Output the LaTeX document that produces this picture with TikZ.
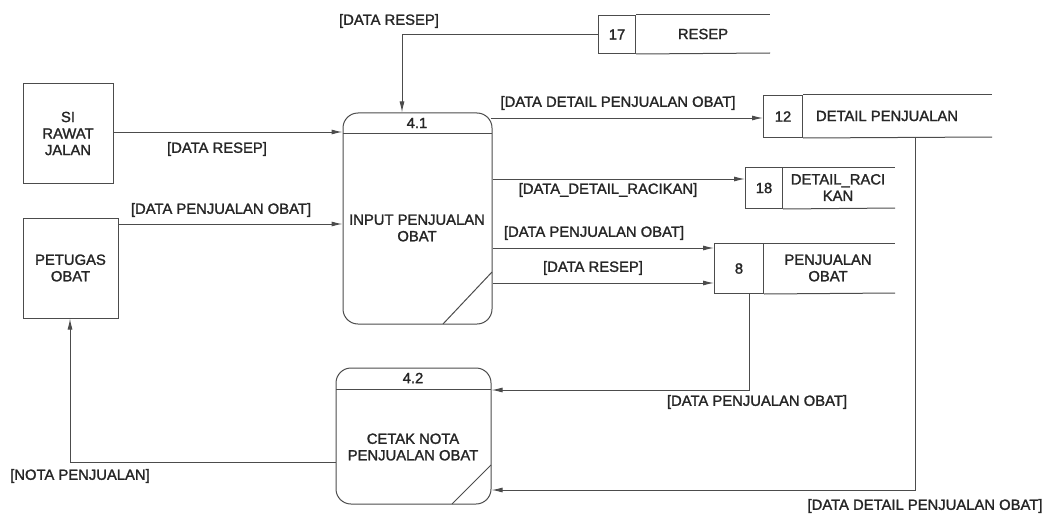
\documentclass[tikz,border=0pt]{standalone}
\usepackage{fontspec}
\setmainfont{Liberation Sans}
\newfontfamily\dfdfont{Liberation Sans}[FakeBold=1.6]
\usetikzlibrary{arrows.meta,calc}
\begin{document}
\begin{tikzpicture}[x=1pt,y=-1pt,
  ln/.style={draw=black!70, line width=1pt},
  flow/.style={ln, -{Latex[length=11pt,width=5pt]}},
  txt/.style={font=\dfdfont\fontsize{14.8}{16.5}\selectfont, text=black!85, inner sep=0pt, align=center},
  lbl/.style={txt},
  entity/.style={ln, txt, inner sep=0pt},
  proc/.style={ln, rounded corners=15pt, inner sep=0pt},
  numbox/.style={ln, txt, inner sep=0pt, anchor=north west}
]
\useasboundingbox (0,0) rectangle (1048,516);

% external entities
\node[entity, minimum width=90pt, minimum height=99pt] (si) at (68,133.5) {SI\\RAWAT\\JALAN};
\node[entity, minimum width=95pt, minimum height=100pt] (pet) at (70.5,268) {PETUGAS\\OBAT};

% process 4.1
\node[proc, minimum width=149pt, minimum height=211pt] (p1) at (417.5,218.5) {};
\draw[ln] (343,133) -- (492,133);
\draw[ln] (443,324) -- (492,272);
\node[txt] (p1id) at (417,123) {4.1};
\node[txt] (p1t) at (417,228) {INPUT PENJUALAN\\OBAT};

% process 4.2
\node[proc, minimum width=155pt, minimum height=136pt] (p2) at (413.5,436) {};
\draw[ln] (336,389) -- (491,389);
\draw[ln] (452,504) -- (491,465);
\node[txt] (p2id) at (413,378) {4.2};
\node[txt] (p2t) at (413,447) {CETAK NOTA\\PENJUALAN OBAT};

% data stores
\node[numbox, minimum width=37pt, minimum height=38pt] (s17) at (598,15) {17};
\draw[ln] (s17.north east) -- (770,15);
\draw[ln] (s17.south east) -- (770,53);
\node[txt] (s17t) at (703,34) {RESEP};

\node[numbox, minimum width=39pt, minimum height=42pt] (s12) at (763,95) {12};
\draw[ln] (s12.north east) -- (992,95);
\draw[ln] (s12.south east) -- (992,137);
\node[txt] (s12t) at (887,116) {DETAIL PENJUALAN};

\node[numbox, minimum width=37pt, minimum height=41pt] (s18) at (745,167) {18};
\draw[ln] (s18.north east) -- (895,167);
\draw[ln] (s18.south east) -- (895,208);
\node[txt] (s18t) at (838,187.5) {DETAIL\_RACI\\KAN};

\node[numbox, minimum width=49pt, minimum height=50pt] (s8) at (714,243) {8};
\draw[ln] (s8.north east) -- (895,243);
\draw[ln] (s8.south east) -- (895,293);
\node[txt] (s8t) at (828,268) {PENJUALAN\\OBAT};

% helper coordinates
\coordinate (ya) at (0,132);
\coordinate (yb) at (0,224);
\coordinate (yc) at (0,118);
\coordinate (yd) at (0,179);
\coordinate (ye) at (0,248);
\coordinate (yf) at (0,283);
\coordinate (yg) at (0,390);
\coordinate (yh) at (0,490);
\coordinate (yi) at (0,462);
\coordinate (xa) at (402,0);
\coordinate (xb) at (749,0);
\coordinate (xc) at (915,0);
\coordinate (xd) at (70,0);

% flows
\draw[flow] (si.east |- ya) -- (p1.west |- ya);
\draw[flow] (pet.east |- yb) -- (p1.west |- yb);
\draw[flow] (s17.west) -| (xa |- p1.north);
\draw[flow] ([xshift=-2pt]p1.east |- yc) -- (s12.west |- yc);
\draw[flow] (p1.east |- yd) -- (s18.west |- yd);
\draw[flow] (p1.east |- ye) -- (s8.west |- ye);
\draw[flow] (p1.east |- yf) -- (s8.west |- yf);
\draw[flow] (xb |- s8.south) |- (p2.east |- yg);
\draw[flow] (xc |- s12.south) |- (p2.east |- yh);
\draw[flow] (p2.west |- yi) -| (xd |- pet.south);

% labels
\node[lbl] (l1) at (389,21) {[DATA RESEP]};
\node[lbl] (l2) at (217,149) {[DATA RESEP]};
\node[lbl] (l3) at (221,210) {[DATA PENJUALAN OBAT]};
\node[lbl] (l4) at (618,103) {[DATA DETAIL PENJUALAN OBAT]};
\node[lbl] (l5) at (608,190) {[DATA\_DETAIL\_RACIKAN]};
\node[lbl] (l6) at (594,233) {[DATA PENJUALAN OBAT]};
\node[lbl] (l7) at (593,268) {[DATA RESEP]};
\node[lbl] (l8) at (757,402) {[DATA PENJUALAN OBAT]};
\node[lbl] (l9) at (925,506) {[DATA DETAIL PENJUALAN OBAT]};
\node[lbl] (l10) at (80,476) {[NOTA PENJUALAN]};
\end{tikzpicture}
\end{document}
